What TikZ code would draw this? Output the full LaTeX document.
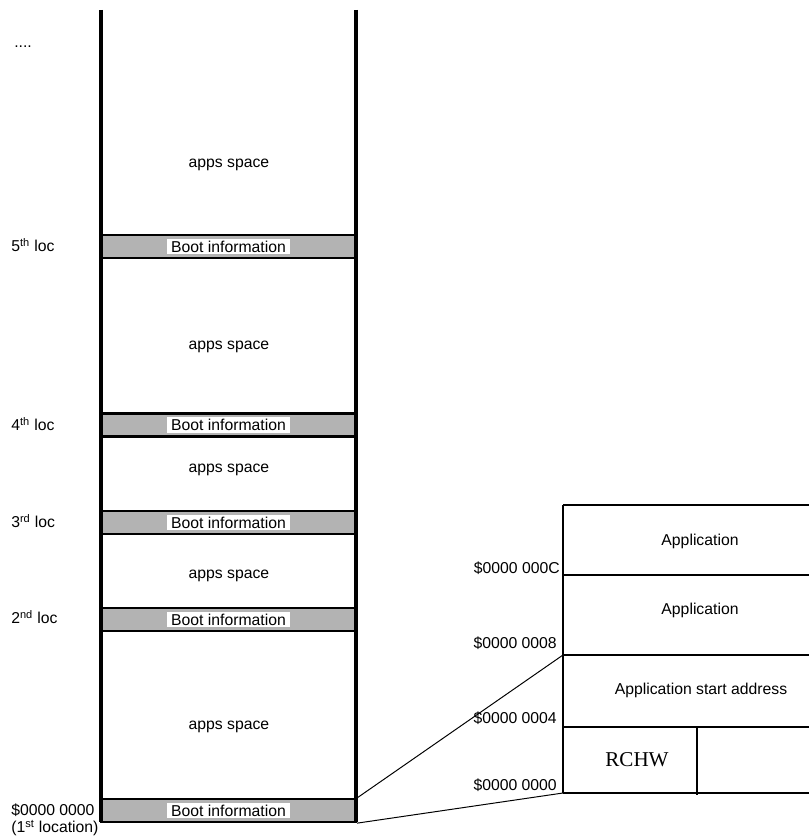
\documentclass[tikz,border=0pt]{standalone}
\usepackage{fontspec}
\setmainfont{Liberation Sans}
\newfontfamily\rchwfont{Liberation Serif}
\definecolor{bandgray}{HTML}{B3B3B3}

\begin{document}
\begin{tikzpicture}[x=0.025cm, y=-0.025cm,
    font=\fontsize{11.2}{13}\selectfont,
    bootband/.style ={draw, line width=1.6pt, fill=bandgray, minimum width=6.375cm, minimum height=0.575cm, inner sep=0pt},
    bootlabel/.style ={fill=white, inner xsep=3pt, inner ysep=1.5pt},
    loclabel/.style ={anchor=west, inner sep=0pt},
    addrlabel/.style ={anchor=east, inner sep=0pt},
    tabline/.style ={line width=1.6pt}]
   \useasboundingbox (0,0) rectangle (809,840);

   % boot information bands
   \node[bootband] (B5) at (228.5,246.5) {};
   \node[bootband] (B4) at (228.5,425) {};
   \node[bootband] (B3) at (228.5,522.5) {};
   \node[bootband] (B2) at (228.5,619.5) {};
   \node[bootband] (B1) at (228.5,810.5) {};
   \node[bootlabel] (L5) at (B5) {Boot information};
   \node[bootlabel] (L4) at (B4) {Boot information};
   \node[bootlabel] (L3) at (B3) {Boot information};
   \node[bootlabel] (L2) at (B2) {Boot information};
   \node[bootlabel] (L1) at (B1) {Boot information};

   % memory column
   \coordinate (CTL) at (101,10);
   \coordinate (CBL) at (101,822);
   \coordinate (CTR) at (356,10);
   \coordinate (CBR) at (356,822);
   \draw[line width=2.2pt] (CTL) to (CBL);
   \draw[line width=2.2pt] (CTR) to (CBR);

   \node (A5) at (229,165) {apps space};
   \node (A4) at (229,347) {apps space};
   \node (A3) at (229,470) {apps space};
   \node (A2) at (229,576) {apps space};
   \node (A1) at (229,727) {apps space};

   \node[loclabel] (D6) at (14,47) {....};
   \node[loclabel] (D5) at (11,245) {5\textsuperscript{th} loc};
   \node[loclabel] (D4) at (11,424) {4\textsuperscript{th} loc};
   \node[loclabel] (D3) at (11,521) {3\textsuperscript{rd} loc};
   \node[loclabel] (D2) at (11,617) {2\textsuperscript{nd} loc};
   \node[loclabel] (D1) at (11,810) {\$0000 0000};
   \node[loclabel] (D0) at (11,828) {(1\textsuperscript{st} location)};

   % boot information detail
   \coordinate (T12) at (563,505);
   \coordinate (T12r) at (809,505);
   \coordinate (T8) at (563,575);
   \coordinate (T8r) at (809,575);
   \coordinate (T4) at (563,655);
   \coordinate (T4r) at (809,655);
   \coordinate (T0) at (563,727);
   \coordinate (T0r) at (809,727);
   \coordinate (TB) at (563,793);
   \coordinate (TBr) at (809,793);
   \coordinate (TM) at (697,727);
   \coordinate (TMb) at (697,795);
   \draw[tabline] (T12) to (TB);
   \draw[tabline] (T12) to (T12r);
   \draw[tabline] (T8) to (T8r);
   \draw[tabline] (T4) to (T4r);
   \draw[tabline] (T0) to (T0r);
   \draw[tabline] (TB) to (TBr);
   \draw[tabline] (TM) to (TMb);

   \node (P3) at (700,541) {Application};
   \node (P2) at (700,610) {Application};
   \node (P1) at (701,690) {Application start address};
   \node (RC) at (637,760) {\rchwfont\fontsize{15}{18}\selectfont RCHW};

   \node[addrlabel] (H12) at (560,568) {\$0000 000C};
   \node[addrlabel] (H8) at (557,643) {\$0000 0008};
   \node[addrlabel] (H4) at (557,718) {\$0000 0004};
   \node[addrlabel] (H0) at (557,785) {\$0000 0000};

   \draw[line width=0.7pt] (B1.north east) to (T4);
   \draw[line width=0.7pt] (B1.south east) to (TB);
 \end{tikzpicture}
\end{document}
